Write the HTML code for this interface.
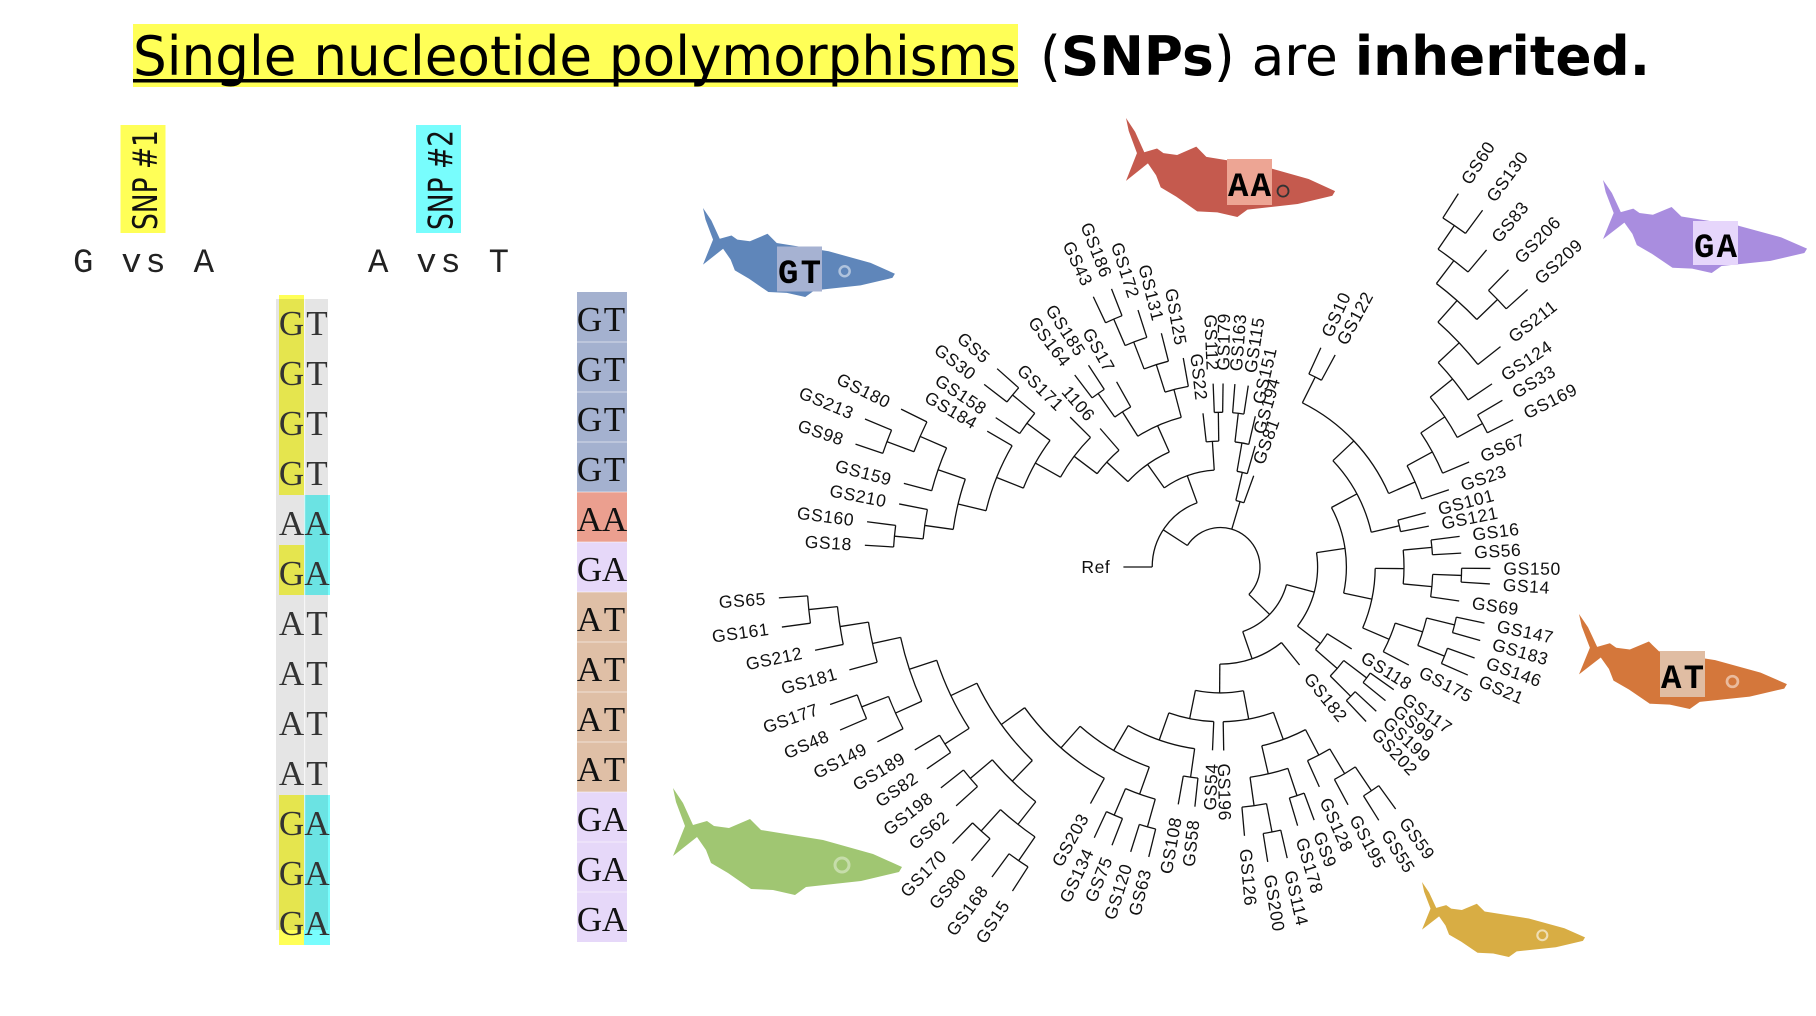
<!DOCTYPE html>
<html><head><meta charset="utf-8">
<style>
html,body{margin:0;padding:0;background:#fff;width:1816px;height:1016px;overflow:hidden;}
svg{display:block;}
.lab text{font-family:"Liberation Sans",sans-serif;font-size:17.5px;fill:#111;stroke:none;letter-spacing:0.6px;}
.lab .l{text-anchor:end;}
.cell{font-family:"Liberation Serif",serif;font-size:35px;text-anchor:middle;}
.tag{font-family:"Liberation Mono",monospace;font-size:34px;font-weight:bold;fill:#000;}
</style></head><body>
<svg width="1816" height="1016" viewBox="0 0 1816 1016" xmlns="http://www.w3.org/2000/svg" overflow="hidden">
<defs>
<path id="sk" d="M0,0 L10,15 L20,37 L34,33 L41,38 L56,40 L77,31 L88,42 L150,52 L200,66 L229,79 L226,84 L188,93 L133,99 L122,107 L100,102 L78,101 L55,85 L38,75 L33,62 L24,49 L0,68 L12,38 L3,14 Z"/>
</defs>
<rect width="1816" height="1016" fill="#fff"/>

<!-- Title -->
<rect x="133" y="24" width="885" height="63" fill="#ffff57"/>
<text x="133" y="75" font-family="DejaVu Sans, sans-serif" font-size="54" textLength="884" lengthAdjust="spacingAndGlyphs" fill="#000">Single nucleotide polymorphisms</text>
<rect x="133" y="79" width="885" height="3.5" fill="#000"/>
<text x="1040" y="75" font-family="DejaVu Sans, sans-serif" font-size="54" textLength="610" lengthAdjust="spacingAndGlyphs" fill="#000">(<tspan font-weight="bold">SNPs</tspan>) are <tspan font-weight="bold">inherited.</tspan></text>

<!-- SNP labels -->
<rect x="120.5" y="125" width="45" height="108" fill="#ffff57"/>
<text transform="translate(157,230) rotate(-90)" font-family="DejaVu Sans, sans-serif" font-size="34" textLength="100" lengthAdjust="spacingAndGlyphs" fill="#111">SNP #1</text>
<rect x="416" y="125" width="45" height="108" fill="#78fdfd"/>
<text transform="translate(452.5,230) rotate(-90)" font-family="DejaVu Sans, sans-serif" font-size="34" textLength="100" lengthAdjust="spacingAndGlyphs" fill="#111">SNP #2</text>

<text x="73" y="272" font-family="Liberation Mono, monospace" font-size="34" textLength="141" fill="#222">G vs A</text>
<text x="368" y="272" font-family="Liberation Mono, monospace" font-size="34" textLength="141" fill="#222">A vs T</text>

<!-- Left alignment columns -->
<g>
<rect x="279" y="295" width="25" height="200" fill="#ffff57"/>
<rect x="279" y="545" width="25" height="50" fill="#ffff57"/>
<rect x="279" y="795" width="25" height="150" fill="#ffff57"/>
<rect x="304" y="495" width="26" height="100" fill="#78fdfd"/>
<rect x="304" y="795" width="26" height="150" fill="#78fdfd"/>
<rect x="276" y="299" width="52" height="631" fill="rgba(0,0,0,0.1)"/>
<rect x="304" y="299" width="1.2" height="631" fill="rgba(255,255,255,0.7)"/>
</g>
<g class="cell" fill="#333">
<text x="291.5" y="335">G</text><text x="317" y="335">T</text>
<text x="291.5" y="385">G</text><text x="317" y="385">T</text>
<text x="291.5" y="435">G</text><text x="317" y="435">T</text>
<text x="291.5" y="485">G</text><text x="317" y="485">T</text>
<text x="291.5" y="535">A</text><text x="317" y="535">A</text>
<text x="291.5" y="585">G</text><text x="317" y="585">A</text>
<text x="291.5" y="635">A</text><text x="317" y="635">T</text>
<text x="291.5" y="685">A</text><text x="317" y="685">T</text>
<text x="291.5" y="735">A</text><text x="317" y="735">T</text>
<text x="291.5" y="785">A</text><text x="317" y="785">T</text>
<text x="291.5" y="835">G</text><text x="317" y="835">A</text>
<text x="291.5" y="885">G</text><text x="317" y="885">A</text>
<text x="291.5" y="935">G</text><text x="317" y="935">A</text>
</g>

<!-- Right genotype column -->
<g>
<rect x="577" y="292" width="50" height="200" fill="#a4b1cf"/>
<rect x="577" y="492" width="50" height="50" fill="#eb9f8f"/>
<rect x="577" y="542" width="50" height="50" fill="#e6d8f9"/>
<rect x="577" y="592" width="50" height="200" fill="#dfbfa6"/>
<rect x="577" y="792" width="50" height="150" fill="#e6d8f9"/>
<g fill="rgba(255,255,255,0.55)">
<rect x="577" y="341.5" width="50" height="1"/><rect x="577" y="391.5" width="50" height="1"/><rect x="577" y="441.5" width="50" height="1"/>
<rect x="577" y="491.5" width="50" height="1"/><rect x="577" y="541.5" width="50" height="1"/><rect x="577" y="591.5" width="50" height="1"/>
<rect x="577" y="641.5" width="50" height="1"/><rect x="577" y="691.5" width="50" height="1"/><rect x="577" y="741.5" width="50" height="1"/>
<rect x="577" y="791.5" width="50" height="1"/><rect x="577" y="841.5" width="50" height="1"/><rect x="577" y="891.5" width="50" height="1"/>
</g>
</g>
<g class="cell" fill="#111">
<text x="589.5" y="331">G</text><text x="614.5" y="331">T</text>
<text x="589.5" y="381">G</text><text x="614.5" y="381">T</text>
<text x="589.5" y="431">G</text><text x="614.5" y="431">T</text>
<text x="589.5" y="481">G</text><text x="614.5" y="481">T</text>
<text x="589.5" y="531">A</text><text x="614.5" y="531">A</text>
<text x="589.5" y="581">G</text><text x="614.5" y="581">A</text>
<text x="589.5" y="631">A</text><text x="614.5" y="631">T</text>
<text x="589.5" y="681">A</text><text x="614.5" y="681">T</text>
<text x="589.5" y="731">A</text><text x="614.5" y="731">T</text>
<text x="589.5" y="781">A</text><text x="614.5" y="781">T</text>
<text x="589.5" y="831">G</text><text x="614.5" y="831">A</text>
<text x="589.5" y="881">G</text><text x="614.5" y="881">A</text>
<text x="589.5" y="931">G</text><text x="614.5" y="931">A</text>
</g>

<!-- Sharks -->
<g transform="translate(703,208) scale(0.838,0.832)"><use href="#sk" fill="#5f86ba"/><circle cx="169" cy="76" r="6" fill="none" stroke="rgba(255,255,255,0.5)" stroke-width="3"/></g>
<g transform="translate(1126,118) scale(0.913,0.925)"><use href="#sk" fill="#c55a4e"/><circle cx="172" cy="79" r="6" fill="none" stroke="#333" stroke-width="2"/></g>
<g transform="translate(1603,180) scale(0.891,0.869)"><use href="#sk" fill="#a98ddf"/></g>
<g transform="translate(1579,614) scale(0.908,0.888)"><use href="#sk" fill="#d4773b"/><circle cx="169" cy="76" r="6" fill="none" stroke="rgba(255,255,255,0.5)" stroke-width="3"/></g>
<g transform="translate(673,788)"><use href="#sk" fill="#a0c672"/><circle cx="169" cy="77" r="7" fill="none" stroke="rgba(255,255,255,0.4)" stroke-width="3"/></g>
<g transform="translate(1422,882) scale(0.712,0.701)"><use href="#sk" fill="#d8ad44"/><circle cx="169" cy="76" r="7" fill="none" stroke="rgba(255,255,255,0.6)" stroke-width="3"/></g>

<rect x="777" y="246.5" width="45" height="45" fill="#a6b2d2"/>
<text class="tag" x="778" y="283" textLength="43">GT</text>
<rect x="1227" y="159" width="45" height="46" fill="#eda594"/>
<text class="tag" x="1228" y="196" textLength="43">AA</text>
<rect x="1693" y="221" width="45" height="44" fill="#e6d6fb"/>
<text class="tag" x="1694" y="257" textLength="43">GA</text>
<rect x="1660" y="651" width="45" height="46" fill="#e0bda3"/>
<text class="tag" x="1661" y="688" textLength="43">AT</text>

<!-- Tree -->
<g transform="translate(1220.5,567)">
<g stroke="#111" stroke-width="1.3" fill="none">
<!-- arcs -->
<path d="M39.5 0A39.5 39.5 0 1 1 -38.77 -7.54" transform="rotate(213)"/>
<path d="M68.3 0A68.3 68.3 0 0 1 23.36 64.18" transform="rotate(180)"/>
<path d="M97.1 0A97.1 97.1 0 0 1 82.61 51.02" transform="rotate(234.6)"/>
<path d="M125.9 0A125.9 125.9 0 0 1 125.28 12.5" transform="rotate(263.5)"/>
<path d="M154.7 0A154.7 154.7 0 0 1 154.47 8.37" transform="rotate(267.7)"/>
<path d="M125.9 0A125.9 125.9 0 0 1 115.63 49.8" transform="rotate(222.7)"/>
<path d="M154.7 0A154.7 154.7 0 0 1 147.46 46.78" transform="rotate(237.7)"/>
<path d="M183.5 0A183.5 183.5 0 0 1 182.53 18.86" transform="rotate(234.8)"/>
<path d="M212.3 0A212.3 212.3 0 0 1 211.78 14.81" transform="rotate(232.8)"/>
<path d="M183.5 0A183.5 183.5 0 0 1 181.93 23.95" transform="rotate(252.4)"/>
<path d="M212.3 0A212.3 212.3 0 0 1 210.76 25.51" transform="rotate(248.9)"/>
<path d="M241.1 0A241.1 241.1 0 0 1 239.99 23.11" transform="rotate(246.7)"/>
<path d="M269.9 0A269.9 269.9 0 0 1 269.31 17.89" transform="rotate(244.8)"/>
<path d="M154.7 0A154.7 154.7 0 0 1 151.38 31.9" transform="rotate(217.1)"/>
<path d="M183.5 0A183.5 183.5 0 0 1 176.74 49.35" transform="rotate(209.3)"/>
<path d="M212.3 0A212.3 212.3 0 0 1 205.26 54.23" transform="rotate(201.8)"/>
<path d="M241.1 0A241.1 241.1 0 0 1 239.78 25.2" transform="rotate(213.6)"/>
<path d="M269.9 0A269.9 269.9 0 0 1 269.27 18.36" transform="rotate(217.7)"/>
<path d="M241.1 0A241.1 241.1 0 0 1 230.93 69.28" transform="rotate(193.5)"/>
<path d="M269.9 0A269.9 269.9 0 0 1 264.94 51.5" transform="rotate(188)"/>
<path d="M298.7 0A298.7 298.7 0 0 1 295.26 45.18" transform="rotate(194.8)"/>
<path d="M327.5 0A327.5 327.5 0 0 1 325.88 32.53" transform="rotate(200.6)"/>
<path d="M356.3 0A356.3 356.3 0 0 1 355.43 24.86" transform="rotate(198.6)"/>
<path d="M298.7 0A298.7 298.7 0 0 1 297.22 29.67" transform="rotate(185.4)"/>
<path d="M327.5 0A327.5 327.5 0 0 1 326.78 21.7" transform="rotate(183.5)"/>
<path d="M68.3 0A68.3 68.3 0 0 1 67.79 8.32" transform="rotate(283)"/>
<path d="M97.1 0A97.1 97.1 0 0 1 96.53 10.49" transform="rotate(279.8)"/>
<path d="M125.9 0A125.9 125.9 0 0 1 125.12 14.03" transform="rotate(276.6)"/>
<path d="M154.7 0A154.7 154.7 0 0 1 154.28 11.33" transform="rotate(274.5)"/>
<path d="M68.3 0A68.3 68.3 0 0 1 38.19 56.62" transform="rotate(15)"/>
<path d="M97.1 0A97.1 97.1 0 0 1 67.45 69.85" transform="rotate(351.5)"/>
<path d="M125.9 0A125.9 125.9 0 0 1 96.16 81.26" transform="rotate(331.8)"/>
<path d="M154.7 0A154.7 154.7 0 0 1 133.43 78.28" transform="rotate(316.6)"/>
<path d="M183.5 0A183.5 183.5 0 0 1 140.91 117.54" transform="rotate(296.5)"/>
<path d="M212.3 0A212.3 212.3 0 0 1 211.83 14.07" transform="rotate(294.6)"/>
<path d="M212.3 0A212.3 212.3 0 0 1 209.2 36.14" transform="rotate(331.5)"/>
<path d="M241.1 0A241.1 241.1 0 0 1 236.75 45.59" transform="rotate(326.2)"/>
<path d="M269.9 0A269.9 269.9 0 0 1 265.55 48.26" transform="rotate(321)"/>
<path d="M298.7 0A298.7 298.7 0 0 1 298.01 20.32" transform="rotate(329.4)"/>
<path d="M298.7 0A298.7 298.7 0 0 1 294.86 47.76" transform="rotate(316.8)"/>
<path d="M327.5 0A327.5 327.5 0 0 1 322.33 57.99" transform="rotate(311.6)"/>
<path d="M356.3 0A356.3 356.3 0 0 1 352.2 53.89" transform="rotate(307.3)"/>
<path d="M385.1 0A385.1 385.1 0 0 1 384.25 25.52" transform="rotate(314.1)"/>
<path d="M385.1 0A385.1 385.1 0 0 1 383.26 37.58" transform="rotate(304.4)"/>
<path d="M413.9 0A413.9 413.9 0 0 1 412.99 27.43" transform="rotate(302.5)"/>
<path d="M183.5 0A183.5 183.5 0 0 1 183.12 11.84" transform="rotate(345.2)"/>
<path d="M154.7 0A154.7 154.7 0 0 1 142.72 59.7" transform="rotate(0.5)"/>
<path d="M183.5 0A183.5 183.5 0 0 1 180.37 33.75" transform="rotate(354.7)"/>
<path d="M212.3 0A212.3 212.3 0 0 1 211.78 14.81" transform="rotate(352.7)"/>
<path d="M212.3 0A212.3 212.3 0 0 1 211.1 22.56" transform="rotate(2)"/>
<path d="M241.1 0A241.1 241.1 0 0 1 240.7 13.88" transform="rotate(0.3)"/>
<path d="M183.5 0A183.5 183.5 0 0 1 180.88 30.92" transform="rotate(17.8)"/>
<path d="M212.3 0A212.3 212.3 0 0 1 210.34 28.81" transform="rotate(13.9)"/>
<path d="M241.1 0A241.1 241.1 0 0 1 240.57 15.98" transform="rotate(12)"/>
<path d="M241.1 0A241.1 241.1 0 0 1 240.54 16.4" transform="rotate(19.7)"/>
<path d="M125.9 0A125.9 125.9 0 0 1 124.35 19.7" transform="rotate(32)"/>
<path d="M154.7 0A154.7 154.7 0 0 1 153.34 20.46" transform="rotate(37.2)"/>
<path d="M183.5 0A183.5 183.5 0 0 1 183.12 11.84" transform="rotate(35.3)"/>
<path d="M183.5 0A183.5 183.5 0 0 1 183.08 12.48" transform="rotate(42.8)"/>
<path d="M97.1 0A97.1 97.1 0 0 1 75.14 61.5" transform="rotate(51.1)"/>
<path d="M125.9 0A125.9 125.9 0 0 1 116.73 47.16" transform="rotate(79.5)"/>
<path d="M154.7 0A154.7 154.7 0 0 1 146.27 50.37" transform="rotate(70)"/>
<path d="M183.5 0A183.5 183.5 0 0 1 177.57 46.25" transform="rotate(62.4)"/>
<path d="M212.3 0A212.3 212.3 0 0 1 208.74 38.69" transform="rotate(71.5)"/>
<path d="M241.1 0A241.1 241.1 0 0 1 240.6 15.56" transform="rotate(69.7)"/>
<path d="M241.1 0A241.1 241.1 0 0 1 239.82 24.78" transform="rotate(79)"/>
<path d="M269.9 0A269.9 269.9 0 0 1 269.31 17.89" transform="rotate(77.1)"/>
<path d="M212.3 0A212.3 212.3 0 0 1 210.81 25.14" transform="rotate(59)"/>
<path d="M241.1 0A241.1 241.1 0 0 1 239.87 24.37" transform="rotate(56)"/>
<path d="M269.9 0A269.9 269.9 0 0 1 269.27 18.36" transform="rotate(54.1)"/>
<path d="M154.7 0A154.7 154.7 0 0 1 147.94 45.23" transform="rotate(92.5)"/>
<path d="M183.5 0A183.5 183.5 0 0 1 170.02 69.04" transform="rotate(98.1)"/>
<path d="M212.3 0A212.3 212.3 0 0 1 211.78 14.81" transform="rotate(96.1)"/>
<path d="M212.3 0A212.3 212.3 0 0 1 197.12 78.84" transform="rotate(109.6)"/>
<path d="M241.1 0A241.1 241.1 0 0 1 239.04 31.47" transform="rotate(105.7)"/>
<path d="M269.9 0A269.9 269.9 0 0 1 269.34 17.42" transform="rotate(111.3)"/>
<path d="M269.9 0A269.9 269.9 0 0 1 269.37 16.95" transform="rotate(103.9)"/>
<path d="M241.1 0A241.1 241.1 0 0 1 217.61 103.8" transform="rotate(118.8)"/>
<path d="M269.9 0A269.9 269.9 0 0 1 253.14 93.64" transform="rotate(134.2)"/>
<path d="M298.7 0A298.7 298.7 0 0 1 292.6 60.06" transform="rotate(128.2)"/>
<path d="M327.5 0A327.5 327.5 0 0 1 326.78 21.7" transform="rotate(137.9)"/>
<path d="M327.5 0A327.5 327.5 0 0 1 324.55 43.88" transform="rotate(124.5)"/>
<path d="M356.3 0A356.3 356.3 0 0 1 355.52 23.62" transform="rotate(130.3)"/>
<path d="M356.3 0A356.3 356.3 0 0 1 355.56 22.99" transform="rotate(122.7)"/>
<path d="M298.7 0A298.7 298.7 0 0 1 289.19 74.79" transform="rotate(147.3)"/>
<path d="M327.5 0A327.5 327.5 0 0 1 326.85 20.56" transform="rotate(145.5)"/>
<path d="M327.5 0A327.5 327.5 0 0 1 320.58 66.97" transform="rotate(155.8)"/>
<path d="M356.3 0A356.3 356.3 0 0 1 354.54 35.39" transform="rotate(153)"/>
<path d="M385.1 0A385.1 385.1 0 0 1 384.25 25.52" transform="rotate(156.8)"/>
<path d="M356.3 0A356.3 356.3 0 0 1 353.94 40.95" transform="rotate(164.5)"/>
<path d="M385.1 0A385.1 385.1 0 0 1 383.2 38.25" transform="rotate(168.4)"/>
<path d="M413.9 0A413.9 413.9 0 0 1 412.99 27.43" transform="rotate(172.2)"/>

<!-- internal stems -->
<line x1="39.5" x2="68.3" transform="rotate(213)"/>
<line x1="68.3" x2="97.1" transform="rotate(250)"/>
<line x1="97.1" x2="125.9" transform="rotate(266.3)"/>
<line x1="125.9" x2="154.7" transform="rotate(269.2)"/>
<line x1="97.1" x2="125.9" transform="rotate(234.6)"/>
<line x1="125.9" x2="154.7" transform="rotate(246)"/>
<line x1="154.7" x2="183.5" transform="rotate(237.7)"/>
<line x1="183.5" x2="212.3" transform="rotate(234.8)"/>
<line x1="154.7" x2="183.5" transform="rotate(255.3)"/>
<line x1="183.5" x2="212.3" transform="rotate(252.4)"/>
<line x1="212.3" x2="241.1" transform="rotate(248.9)"/>
<line x1="241.1" x2="269.9" transform="rotate(246.7)"/>
<line x1="125.9" x2="154.7" transform="rotate(222.7)"/>
<line x1="154.7" x2="183.5" transform="rotate(217.1)"/>
<line x1="183.5" x2="212.3" transform="rotate(209.3)"/>
<line x1="212.3" x2="241.1" transform="rotate(216.6)"/>
<line x1="241.1" x2="269.9" transform="rotate(219.6)"/>
<line x1="212.3" x2="241.1" transform="rotate(201.8)"/>
<line x1="241.1" x2="269.9" transform="rotate(193.5)"/>
<line x1="269.9" x2="298.7" transform="rotate(199)"/>
<line x1="298.7" x2="327.5" transform="rotate(203.5)"/>
<line x1="327.5" x2="356.3" transform="rotate(200.6)"/>
<line x1="269.9" x2="298.7" transform="rotate(188)"/>
<line x1="298.7" x2="327.5" transform="rotate(185.4)"/>
<line x1="39.5" x2="68.3" transform="rotate(286.6)"/>
<line x1="68.3" x2="97.1" transform="rotate(283)"/>
<line x1="97.1" x2="125.9" transform="rotate(279.8)"/>
<line x1="125.9" x2="154.7" transform="rotate(276.6)"/>
<line x1="39.5" x2="68.3" transform="rotate(44)"/>
<line x1="68.3" x2="97.1" transform="rotate(15)"/>
<line x1="97.1" x2="125.9" transform="rotate(351.5)"/>
<line x1="125.9" x2="154.7" transform="rotate(331.8)"/>
<line x1="154.7" x2="183.5" transform="rotate(316.6)"/>
<line x1="183.5" x2="212.3" transform="rotate(296.5)"/>
<line x1="183.5" x2="212.3" transform="rotate(336.4)"/>
<line x1="212.3" x2="241.1" transform="rotate(331.5)"/>
<line x1="241.1" x2="269.9" transform="rotate(326.2)"/>
<line x1="269.9" x2="298.7" transform="rotate(331.3)"/>
<line x1="269.9" x2="298.7" transform="rotate(321)"/>
<line x1="298.7" x2="327.5" transform="rotate(316.8)"/>
<line x1="327.5" x2="356.3" transform="rotate(311.6)"/>
<line x1="356.3" x2="385.1" transform="rotate(316)"/>
<line x1="356.3" x2="385.1" transform="rotate(307.3)"/>
<line x1="385.1" x2="413.9" transform="rotate(304.4)"/>
<line x1="154.7" x2="183.5" transform="rotate(347)"/>
<line x1="125.9" x2="154.7" transform="rotate(12)"/>
<line x1="154.7" x2="183.5" transform="rotate(0.5)"/>
<line x1="183.5" x2="212.3" transform="rotate(354.7)"/>
<line x1="183.5" x2="212.3" transform="rotate(5.3)"/>
<line x1="212.3" x2="241.1" transform="rotate(2)"/>
<line x1="154.7" x2="183.5" transform="rotate(23.2)"/>
<line x1="183.5" x2="212.3" transform="rotate(17.8)"/>
<line x1="212.3" x2="241.1" transform="rotate(13.9)"/>
<line x1="212.3" x2="241.1" transform="rotate(21.7)"/>
<line x1="97.1" x2="125.9" transform="rotate(37.5)"/>
<line x1="125.9" x2="154.7" transform="rotate(41)"/>
<line x1="154.7" x2="183.5" transform="rotate(37.2)"/>
<line x1="154.7" x2="183.5" transform="rotate(44.8)"/>
<line x1="68.3" x2="97.1" transform="rotate(71)"/>
<line x1="97.1" x2="125.9" transform="rotate(90.4)"/>
<line x1="125.9" x2="154.7" transform="rotate(79.5)"/>
<line x1="154.7" x2="183.5" transform="rotate(70)"/>
<line x1="183.5" x2="212.3" transform="rotate(77)"/>
<line x1="212.3" x2="241.1" transform="rotate(71.5)"/>
<line x1="212.3" x2="241.1" transform="rotate(82)"/>
<line x1="241.1" x2="269.9" transform="rotate(79)"/>
<line x1="183.5" x2="212.3" transform="rotate(62.4)"/>
<line x1="212.3" x2="241.1" transform="rotate(59)"/>
<line x1="241.1" x2="269.9" transform="rotate(56)"/>
<line x1="125.9" x2="154.7" transform="rotate(101.5)"/>
<line x1="154.7" x2="183.5" transform="rotate(109.5)"/>
<line x1="183.5" x2="212.3" transform="rotate(98.1)"/>
<line x1="183.5" x2="212.3" transform="rotate(120.2)"/>
<line x1="212.3" x2="241.1" transform="rotate(109.6)"/>
<line x1="241.1" x2="269.9" transform="rotate(113.2)"/>
<line x1="241.1" x2="269.9" transform="rotate(105.7)"/>
<line x1="212.3" x2="241.1" transform="rotate(131.4)"/>
<line x1="241.1" x2="269.9" transform="rotate(144.3)"/>
<line x1="269.9" x2="298.7" transform="rotate(134.2)"/>
<line x1="298.7" x2="327.5" transform="rotate(139.8)"/>
<line x1="298.7" x2="327.5" transform="rotate(128.2)"/>
<line x1="327.5" x2="356.3" transform="rotate(132.2)"/>
<line x1="327.5" x2="356.3" transform="rotate(124.5)"/>
<line x1="269.9" x2="298.7" transform="rotate(154.5)"/>
<line x1="298.7" x2="327.5" transform="rotate(147.3)"/>
<line x1="298.7" x2="327.5" transform="rotate(161.8)"/>
<line x1="327.5" x2="356.3" transform="rotate(155.8)"/>
<line x1="356.3" x2="385.1" transform="rotate(158.7)"/>
<line x1="327.5" x2="356.3" transform="rotate(167.6)"/>
<line x1="356.3" x2="385.1" transform="rotate(171.1)"/>
<line x1="385.1" x2="413.9" transform="rotate(174.1)"/>

<!-- leaf branches -->
<line x1="68.3" x2="97.1" transform="rotate(180)"/>
<line x1="125.9" x2="154.7" transform="rotate(263.5)"/>
<line x1="154.7" x2="183.5" transform="rotate(267.7)"/>
<line x1="154.7" x2="183.5" transform="rotate(270.8)"/>
<line x1="183.5" x2="212.3" transform="rotate(240.7)"/>
<line x1="212.3" x2="241.1" transform="rotate(232.8)"/>
<line x1="212.3" x2="241.1" transform="rotate(236.8)"/>
<line x1="183.5" x2="212.3" transform="rotate(259.9)"/>
<line x1="212.3" x2="241.1" transform="rotate(255.8)"/>
<line x1="241.1" x2="269.9" transform="rotate(252.2)"/>
<line x1="269.9" x2="298.7" transform="rotate(244.8)"/>
<line x1="269.9" x2="298.7" transform="rotate(248.6)"/>
<line x1="154.7" x2="183.5" transform="rotate(229)"/>
<line x1="183.5" x2="212.3" transform="rotate(224.9)"/>
<line x1="241.1" x2="269.9" transform="rotate(213.6)"/>
<line x1="269.9" x2="298.7" transform="rotate(217.7)"/>
<line x1="269.9" x2="298.7" transform="rotate(221.6)"/>
<line x1="241.1" x2="269.9" transform="rotate(210.2)"/>
<line x1="298.7" x2="327.5" transform="rotate(194.8)"/>
<line x1="327.5" x2="356.3" transform="rotate(206.3)"/>
<line x1="356.3" x2="385.1" transform="rotate(198.6)"/>
<line x1="356.3" x2="385.1" transform="rotate(202.6)"/>
<line x1="298.7" x2="327.5" transform="rotate(191.1)"/>
<line x1="327.5" x2="356.3" transform="rotate(183.5)"/>
<line x1="327.5" x2="356.3" transform="rotate(187.3)"/>
<line x1="68.3" x2="97.1" transform="rotate(290)"/>
<line x1="97.1" x2="125.9" transform="rotate(286)"/>
<line x1="125.9" x2="154.7" transform="rotate(283)"/>
<line x1="154.7" x2="183.5" transform="rotate(274.5)"/>
<line x1="154.7" x2="183.5" transform="rotate(278.7)"/>
<line x1="212.3" x2="241.1" transform="rotate(294.6)"/>
<line x1="212.3" x2="241.1" transform="rotate(298.4)"/>
<line x1="212.3" x2="241.1" transform="rotate(341.3)"/>
<line x1="241.1" x2="269.9" transform="rotate(337.1)"/>
<line x1="298.7" x2="327.5" transform="rotate(329.4)"/>
<line x1="298.7" x2="327.5" transform="rotate(333.3)"/>
<line x1="298.7" x2="327.5" transform="rotate(326)"/>
<line x1="327.5" x2="356.3" transform="rotate(321.8)"/>
<line x1="385.1" x2="413.9" transform="rotate(314.1)"/>
<line x1="385.1" x2="413.9" transform="rotate(317.9)"/>
<line x1="385.1" x2="413.9" transform="rotate(310)"/>
<line x1="413.9" x2="442.7" transform="rotate(302.5)"/>
<line x1="413.9" x2="442.7" transform="rotate(306.3)"/>
<line x1="183.5" x2="212.3" transform="rotate(345.2)"/>
<line x1="183.5" x2="212.3" transform="rotate(348.9)"/>
<line x1="212.3" x2="241.1" transform="rotate(352.7)"/>
<line x1="212.3" x2="241.1" transform="rotate(356.7)"/>
<line x1="212.3" x2="241.1" transform="rotate(8.1)"/>
<line x1="241.1" x2="269.9" transform="rotate(0.3)"/>
<line x1="241.1" x2="269.9" transform="rotate(3.6)"/>
<line x1="183.5" x2="212.3" transform="rotate(27.5)"/>
<line x1="241.1" x2="269.9" transform="rotate(12)"/>
<line x1="241.1" x2="269.9" transform="rotate(15.8)"/>
<line x1="241.1" x2="269.9" transform="rotate(19.7)"/>
<line x1="241.1" x2="269.9" transform="rotate(23.6)"/>
<line x1="125.9" x2="154.7" transform="rotate(32)"/>
<line x1="183.5" x2="212.3" transform="rotate(35.3)"/>
<line x1="183.5" x2="212.3" transform="rotate(39)"/>
<line x1="183.5" x2="212.3" transform="rotate(42.8)"/>
<line x1="183.5" x2="212.3" transform="rotate(46.7)"/>
<line x1="97.1" x2="125.9" transform="rotate(51.1)"/>
<line x1="154.7" x2="183.5" transform="rotate(89)"/>
<line x1="241.1" x2="269.9" transform="rotate(69.7)"/>
<line x1="241.1" x2="269.9" transform="rotate(73.4)"/>
<line x1="241.1" x2="269.9" transform="rotate(84.9)"/>
<line x1="269.9" x2="298.7" transform="rotate(77.1)"/>
<line x1="269.9" x2="298.7" transform="rotate(80.9)"/>
<line x1="212.3" x2="241.1" transform="rotate(65.8)"/>
<line x1="241.1" x2="269.9" transform="rotate(61.8)"/>
<line x1="269.9" x2="298.7" transform="rotate(54.1)"/>
<line x1="269.9" x2="298.7" transform="rotate(58)"/>
<line x1="154.7" x2="183.5" transform="rotate(92.5)"/>
<line x1="212.3" x2="241.1" transform="rotate(96.1)"/>
<line x1="212.3" x2="241.1" transform="rotate(100.1)"/>
<line x1="269.9" x2="298.7" transform="rotate(111.3)"/>
<line x1="269.9" x2="298.7" transform="rotate(115)"/>
<line x1="269.9" x2="298.7" transform="rotate(103.9)"/>
<line x1="269.9" x2="298.7" transform="rotate(107.5)"/>
<line x1="241.1" x2="269.9" transform="rotate(118.8)"/>
<line x1="327.5" x2="356.3" transform="rotate(137.9)"/>
<line x1="327.5" x2="356.3" transform="rotate(141.7)"/>
<line x1="356.3" x2="385.1" transform="rotate(130.3)"/>
<line x1="356.3" x2="385.1" transform="rotate(134.1)"/>
<line x1="356.3" x2="385.1" transform="rotate(122.7)"/>
<line x1="356.3" x2="385.1" transform="rotate(126.4)"/>
<line x1="327.5" x2="356.3" transform="rotate(145.5)"/>
<line x1="327.5" x2="356.3" transform="rotate(149.1)"/>
<line x1="356.3" x2="385.1" transform="rotate(153)"/>
<line x1="385.1" x2="413.9" transform="rotate(156.8)"/>
<line x1="385.1" x2="413.9" transform="rotate(160.6)"/>
<line x1="356.3" x2="385.1" transform="rotate(164.5)"/>
<line x1="385.1" x2="413.9" transform="rotate(168.4)"/>
<line x1="413.9" x2="442.7" transform="rotate(172.2)"/>
<line x1="413.9" x2="442.7" transform="rotate(176)"/>
</g>

<!-- labels -->
<g class="lab">
<text class="l" dy="6" transform="rotate(180) translate(110.1,0) rotate(180)">Ref</text>
<text class="l" dy="6" transform="rotate(263.5) translate(167.7,0) rotate(180)">GS22</text>
<text class="l" dy="6" transform="rotate(267.7) translate(196.5,0) rotate(180)">GS112</text>
<text class="l" dy="6" transform="rotate(240.7) translate(225.3,0) rotate(180)">GS17</text>
<text class="l" dy="6" transform="rotate(232.8) translate(254.1,0) rotate(180)">GS164</text>
<text class="l" dy="6" transform="rotate(236.8) translate(254.1,0) rotate(180)">GS185</text>
<text class="l" dy="6" transform="rotate(259.9) translate(225.3,0) rotate(180)">GS125</text>
<text class="l" dy="6" transform="rotate(255.8) translate(254.1,0) rotate(180)">GS131</text>
<text class="l" dy="6" transform="rotate(252.2) translate(282.9,0) rotate(180)">GS172</text>
<text class="l" dy="6" transform="rotate(244.8) translate(311.7,0) rotate(180)">GS43</text>
<text class="l" dy="6" transform="rotate(248.6) translate(311.7,0) rotate(180)">GS186</text>
<text class="l" dy="6" transform="rotate(229) translate(196.5,0) rotate(180)">1106</text>
<text class="l" dy="6" transform="rotate(224.9) translate(225.3,0) rotate(180)">GS171</text>
<text class="l" dy="6" transform="rotate(213.6) translate(282.9,0) rotate(180)">GS158</text>
<text class="l" dy="6" transform="rotate(217.7) translate(311.7,0) rotate(180)">GS30</text>
<text class="l" dy="6" transform="rotate(221.6) translate(311.7,0) rotate(180)">GS5</text>
<text class="l" dy="6" transform="rotate(210.2) translate(282.9,0) rotate(180)">GS184</text>
<text class="l" dy="6" transform="rotate(194.8) translate(340.5,0) rotate(180)">GS159</text>
<text class="l" dy="6" transform="rotate(206.3) translate(369.3,0) rotate(180)">GS180</text>
<text class="l" dy="6" transform="rotate(198.6) translate(398.1,0) rotate(180)">GS98</text>
<text class="l" dy="6" transform="rotate(202.6) translate(398.1,0) rotate(180)">GS213</text>
<text class="l" dy="6" transform="rotate(191.1) translate(340.5,0) rotate(180)">GS210</text>
<text class="l" dy="6" transform="rotate(183.5) translate(369.3,0) rotate(180)">GS18</text>
<text class="l" dy="6" transform="rotate(187.3) translate(369.3,0) rotate(180)">GS160</text>
<text class="l" dy="6" transform="rotate(92.5) translate(196.5,0) rotate(180)">GS54</text>
<text class="l" dy="6" transform="rotate(96.1) translate(254.1,0) rotate(180)">GS58</text>
<text class="l" dy="6" transform="rotate(100.1) translate(254.1,0) rotate(180)">GS108</text>
<text class="l" dy="6" transform="rotate(111.3) translate(311.7,0) rotate(180)">GS75</text>
<text class="l" dy="6" transform="rotate(115) translate(311.7,0) rotate(180)">GS134</text>
<text class="l" dy="6" transform="rotate(103.9) translate(311.7,0) rotate(180)">GS63</text>
<text class="l" dy="6" transform="rotate(107.5) translate(311.7,0) rotate(180)">GS120</text>
<text class="l" dy="6" transform="rotate(118.8) translate(282.9,0) rotate(180)">GS203</text>
<text class="l" dy="6" transform="rotate(137.9) translate(369.3,0) rotate(180)">GS62</text>
<text class="l" dy="6" transform="rotate(141.7) translate(369.3,0) rotate(180)">GS198</text>
<text class="l" dy="6" transform="rotate(130.3) translate(398.1,0) rotate(180)">GS80</text>
<text class="l" dy="6" transform="rotate(134.1) translate(398.1,0) rotate(180)">GS170</text>
<text class="l" dy="6" transform="rotate(122.7) translate(398.1,0) rotate(180)">GS15</text>
<text class="l" dy="6" transform="rotate(126.4) translate(398.1,0) rotate(180)">GS168</text>
<text class="l" dy="6" transform="rotate(145.5) translate(369.3,0) rotate(180)">GS82</text>
<text class="l" dy="6" transform="rotate(149.1) translate(369.3,0) rotate(180)">GS189</text>
<text class="l" dy="6" transform="rotate(153) translate(398.1,0) rotate(180)">GS149</text>
<text class="l" dy="6" transform="rotate(156.8) translate(426.9,0) rotate(180)">GS48</text>
<text class="l" dy="6" transform="rotate(160.6) translate(426.9,0) rotate(180)">GS177</text>
<text class="l" dy="6" transform="rotate(164.5) translate(398.1,0) rotate(180)">GS181</text>
<text class="l" dy="6" transform="rotate(168.4) translate(426.9,0) rotate(180)">GS212</text>
<text class="l" dy="6" transform="rotate(172.2) translate(455.7,0) rotate(180)">GS161</text>
<text class="l" dy="6" transform="rotate(176) translate(455.7,0) rotate(180)">GS65</text>

<text dy="6" transform="rotate(270.8) translate(196.5,0)">GS179</text>
<text dy="6" transform="rotate(274.5) translate(196.5,0)">GS163</text>
<text dy="6" transform="rotate(278.7) translate(196.5,0)">GS115</text>
<text dy="6" transform="rotate(283) translate(167.7,0)">GS151</text>
<text dy="6" transform="rotate(286) translate(138.9,0)">GS194</text>
<text dy="6" transform="rotate(290) translate(110.1,0)">GS81</text>
<text dy="6" transform="rotate(294.6) translate(254.1,0)">GS10</text>
<text dy="6" transform="rotate(298.4) translate(254.1,0)">GS122</text>
<text dy="6" transform="rotate(341.3) translate(254.1,0)">GS23</text>
<text dy="6" transform="rotate(337.1) translate(282.9,0)">GS67</text>
<text dy="6" transform="rotate(329.4) translate(340.5,0)">GS33</text>
<text dy="6" transform="rotate(333.3) translate(340.5,0)">GS169</text>
<text dy="6" transform="rotate(326) translate(340.5,0)">GS124</text>
<text dy="6" transform="rotate(321.8) translate(369.3,0)">GS211</text>
<text dy="6" transform="rotate(314.1) translate(426.9,0)">GS206</text>
<text dy="6" transform="rotate(317.9) translate(426.9,0)">GS209</text>
<text dy="6" transform="rotate(310) translate(426.9,0)">GS83</text>
<text dy="6" transform="rotate(302.5) translate(455.7,0)">GS60</text>
<text dy="6" transform="rotate(306.3) translate(455.7,0)">GS130</text>
<text dy="6" transform="rotate(345.2) translate(225.3,0)">GS101</text>
<text dy="6" transform="rotate(348.9) translate(225.3,0)">GS121</text>
<text dy="6" transform="rotate(352.7) translate(254.1,0)">GS16</text>
<text dy="6" transform="rotate(356.7) translate(254.1,0)">GS56</text>
<text dy="6" transform="rotate(8.1) translate(254.1,0)">GS69</text>
<text dy="6" transform="rotate(0.3) translate(282.9,0)">GS150</text>
<text dy="6" transform="rotate(3.6) translate(282.9,0)">GS14</text>
<text dy="6" transform="rotate(27.5) translate(225.3,0)">GS175</text>
<text dy="6" transform="rotate(12) translate(282.9,0)">GS147</text>
<text dy="6" transform="rotate(15.8) translate(282.9,0)">GS183</text>
<text dy="6" transform="rotate(19.7) translate(282.9,0)">GS146</text>
<text dy="6" transform="rotate(23.6) translate(282.9,0)">GS21</text>
<text dy="6" transform="rotate(32) translate(167.7,0)">GS118</text>
<text dy="6" transform="rotate(35.3) translate(225.3,0)">GS117</text>
<text dy="6" transform="rotate(39) translate(225.3,0)">GS99</text>
<text dy="6" transform="rotate(42.8) translate(225.3,0)">GS199</text>
<text dy="6" transform="rotate(46.7) translate(225.3,0)">GS202</text>
<text dy="6" transform="rotate(51.1) translate(138.9,0)">GS182</text>
<text dy="6" transform="rotate(89) translate(196.5,0)">GS196</text>
<text dy="6" transform="rotate(69.7) translate(282.9,0)">GS9</text>
<text dy="6" transform="rotate(73.4) translate(282.9,0)">GS178</text>
<text dy="6" transform="rotate(84.9) translate(282.9,0)">GS126</text>
<text dy="6" transform="rotate(77.1) translate(311.7,0)">GS114</text>
<text dy="6" transform="rotate(80.9) translate(311.7,0)">GS200</text>
<text dy="6" transform="rotate(65.8) translate(254.1,0)">GS128</text>
<text dy="6" transform="rotate(61.8) translate(282.9,0)">GS195</text>
<text dy="6" transform="rotate(54.1) translate(311.7,0)">GS59</text>
<text dy="6" transform="rotate(58) translate(311.7,0)">GS55</text>
</g>
</g>
</svg>
</body></html>
